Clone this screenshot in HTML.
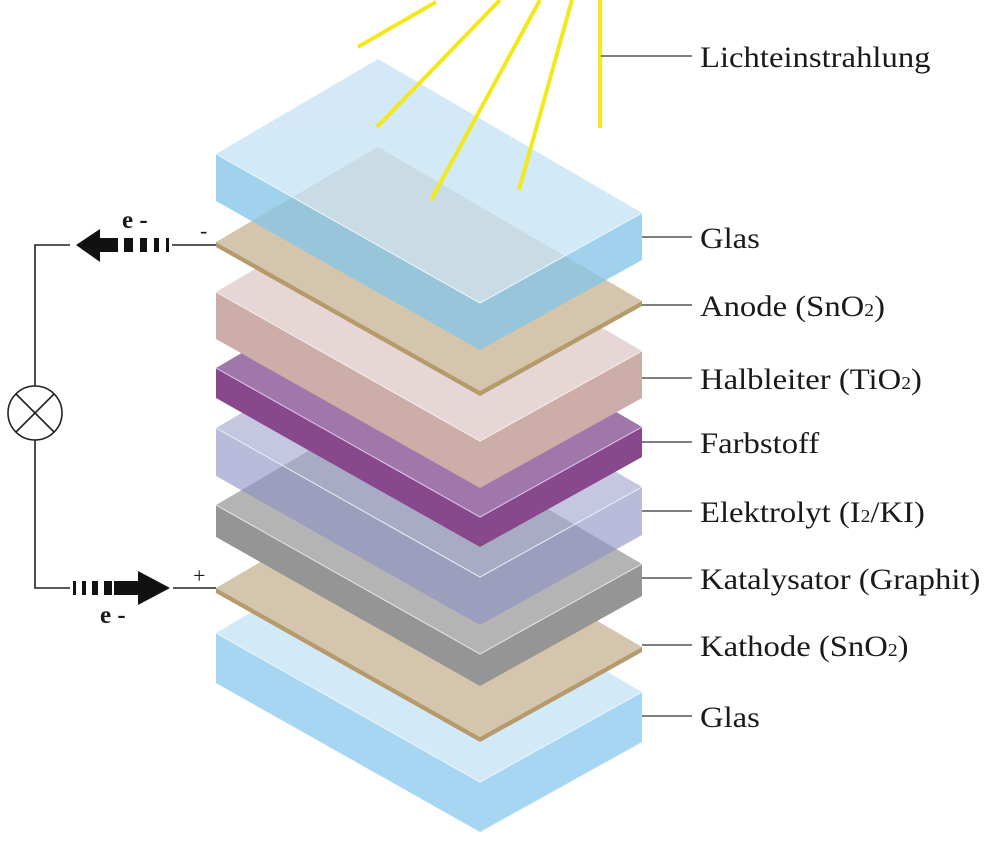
<!DOCTYPE html>
<html><head><meta charset="utf-8"><style>
html,body{margin:0;padding:0;background:#fff;}
svg{display:block;}
text{font-family:"Liberation Serif",serif;fill:#1a1a1a;}
</style></head><body>
<svg width="991" height="842" viewBox="0 0 991 842" xmlns="http://www.w3.org/2000/svg">
<polygon points="216,633 378,538 642,692 480,782" fill="#d2e9f7"/>
<polygon points="216,633 480,782 480,832 216,683" fill="#a7d6f2"/>
<polygon points="480,782 642,692 642,742 480,832" fill="#a7d6f2"/>
<polyline points="216,633 480,782 642,692" fill="none" stroke="#eef7fc" stroke-width="1"/>
<polygon points="216,588 378,493 642,647 480,737" fill="#d5c5ac"/>
<polygon points="216,588 480,737 480,742 216,593" fill="#b59a6c"/>
<polygon points="480,737 642,647 642,652 480,742" fill="#b59a6c"/>
<polygon points="216,505 378,410 642,564 480,654" fill="#b4b4b4"/>
<polygon points="216,505 480,654 480,686 216,537" fill="#959595"/>
<polygon points="480,654 642,564 642,596 480,686" fill="#959595"/>
<polyline points="216,505 480,654 642,564" fill="none" stroke="#e6e6e6" stroke-width="1"/>
<g opacity="0.62">
<polygon points="216,428 378,333 642,487 480,577" fill="#a3a6d0"/>
<polygon points="216,428 480,577 480,625 216,476" fill="#8e92c4"/>
<polygon points="480,577 642,487 642,535 480,625" fill="#8e92c4"/>
</g>
<polyline points="216,428 480,577 642,487" fill="none" stroke="#eeeef8" stroke-width="1"/>
<polygon points="216,368 378,273 642,427 480,517" fill="#a077ab"/>
<polygon points="216,368 480,517 480,547 216,398" fill="#87498c"/>
<polygon points="480,517 642,427 642,457 480,547" fill="#87498c"/>
<polyline points="216,368 480,517 642,427" fill="none" stroke="#e5c8ee" stroke-width="1"/>
<polygon points="216,292 378,197 642,351 480,441" fill="#e6d7d6"/>
<polygon points="216,292 480,441 480,488 216,339" fill="#cdada7"/>
<polygon points="480,441 642,351 642,398 480,488" fill="#cdada7"/>
<polyline points="216,292 480,441 642,351" fill="none" stroke="#f6eeee" stroke-width="1"/>
<polygon points="216,242 378,147 642,301 480,391" fill="#d5c5ac"/>
<polygon points="216,242 480,391 480,396 216,247" fill="#b59a6c"/>
<polygon points="480,391 642,301 642,306 480,396" fill="#b59a6c"/>
<g opacity="0.78">
<polygon points="216,154 378,59 642,213 480,303" fill="#c6e3f6"/>
<polygon points="216,154 480,303 480,350 216,201" fill="#86c6e8"/>
<polygon points="480,303 642,213 642,260 480,350" fill="#86c6e8"/>
</g>
<polyline points="216,154 480,303 642,213" fill="none" stroke="#eef7fc" stroke-width="1"/>
<g stroke="#f2e81c" stroke-width="4" stroke-linecap="butt">
<line x1="358" y1="47" x2="436" y2="2"/>
<line x1="377" y1="127" x2="500" y2="0"/>
<line x1="431" y1="200" x2="540" y2="0"/>
<line x1="519" y1="190" x2="572" y2="0"/>
<line x1="600" y1="128" x2="600" y2="0"/>
</g>
<g stroke="#333" stroke-width="1.3">
<line x1="601" y1="56" x2="692" y2="56"/>
<line x1="642" y1="237" x2="692" y2="237"/>
<line x1="642" y1="305" x2="692" y2="305"/>
<line x1="642" y1="378" x2="692" y2="378"/>
<line x1="642" y1="442" x2="692" y2="442"/>
<line x1="642" y1="511" x2="692" y2="511"/>
<line x1="642" y1="578" x2="692" y2="578"/>
<line x1="642" y1="645" x2="692" y2="645"/>
<line x1="642" y1="716" x2="692" y2="716"/>
</g>
<g font-size="30" transform="translate(700,0) scale(1.09,1) translate(-700,0)">
<text x="700" y="67">Lichteinstrahlung</text>
<text x="700" y="248">Glas</text>
<text x="700" y="316">Anode (SnO<tspan font-size="18">2</tspan>)</text>
<text x="700" y="389">Halbleiter (TiO<tspan font-size="18">2</tspan>)</text>
<text x="700" y="453">Farbstoff</text>
<text x="700" y="522">Elektrolyt (I<tspan font-size="18">2</tspan>/KI)</text>
<text x="700" y="589">Katalysator (Graphit)</text>
<text x="700" y="656">Kathode (SnO<tspan font-size="18">2</tspan>)</text>
<text x="700" y="727">Glas</text>
</g>
<g stroke="#222" stroke-width="1.6" fill="none">
<polyline points="70,245 35,245 35,386"/>
<polyline points="35,440 35,588 70,588"/>
<line x1="172" y1="245" x2="216" y2="245"/>
<line x1="173" y1="588" x2="216" y2="588"/>
<circle cx="35" cy="413" r="27"/>
<line x1="16" y1="394" x2="54" y2="432"/>
<line x1="54" y1="394" x2="16" y2="432"/>
</g>
<g fill="#111">
<polygon points="76,245 100,229 100,238 118,238 118,252 100,252 100,262"/>
<rect x="124" y="238" width="9" height="14"/>
<rect x="140" y="238" width="7" height="14"/>
<rect x="154" y="238" width="5" height="14"/>
<rect x="166" y="238" width="3" height="14"/>
<rect x="73" y="581" width="3" height="14"/>
<rect x="82" y="581" width="4" height="14"/>
<rect x="92" y="581" width="6" height="14"/>
<rect x="104" y="581" width="8" height="14"/>
<polygon points="114,581 138,581 138,571 170,588 138,605 138,595 114,595"/>
</g>
<text x="122" y="228" font-size="25" font-weight="bold">e -</text>
<text x="100" y="623" font-size="25" font-weight="bold">e -</text>
<text x="200" y="238" font-size="22">-</text>
<text x="193" y="583" font-size="22">+</text>
</svg>
</body></html>
